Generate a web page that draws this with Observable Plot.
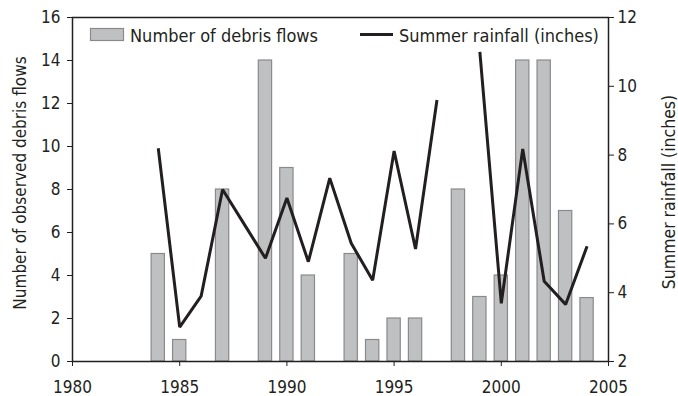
<!DOCTYPE html>
<html>
<head>
<meta charset="utf-8">
<script src="https://cdn.jsdelivr.net/npm/d3@7"></script>
<script src="https://cdn.jsdelivr.net/npm/@observablehq/plot@0.6"></script>
<style>
  html, body { margin: 0; padding: 0; background: #fff; }
  #chart { width: 678px; height: 396px; }
</style>
</head>
<body>
<div id="chart"></div>
<script>
// Debris flows per year
const flowYears  = [1984, 1985, 1987, 1989, 1990, 1991, 1993, 1994, 1995, 1996, 1998, 1999, 2000, 2001, 2002, 2003, 2004];
const flowCounts = [5, 1, 8, 14, 9, 4, 5, 1, 2, 2, 8, 3, 4, 14, 14, 7, 2.95];

// Summer rainfall (inches); 1998 missing
const rainYears  = [1984, 1985, 1986, 1987, 1988, 1989, 1990, 1991, 1992, 1993, 1994, 1995, 1996, 1997, 1998, 1999, 2000, 2001, 2002, 2003, 2004];
const rainValues = [8.2, 3.0, 3.9, 7.0, 6.0, 5.0, 6.75, 4.9, 7.33, 5.44, 4.36, 8.12, 5.27, 9.6, null, 11.0, 3.69, 8.18, 4.33, 3.66, 5.35];

const xTicks = [1980, 1985, 1990, 1995, 2000, 2005];
const leftTicks = [0, 2, 4, 6, 8, 10, 12, 14, 16];
const rightTicks = [2, 4, 6, 8, 10, 12];

const leftLabel = "Number of observed debris flows";
const rightLabel = "Summer rainfall (inches)";
const legendBars = "Number of debris flows";
const legendLine = "Summer rainfall (inches)";

const FONT = "'Liberation Sans Narrow', 'DejaVu Sans Condensed', 'Roboto', sans-serif";
const INK = "#231f20";
const BAR_FILL = "#bfc0c2";
const BAR_STROKE = "#8a8a8a";

// rainfall axis 2..12 mapped onto counts axis 0..16
const rMin = 2, rMax = 12, cMax = 16;
const toCount = r => (r - rMin) * cMax / (rMax - rMin);

const flows = flowYears.map((y, i) => ({year: y, count: flowCounts[i]}));
const rain = rainYears.map((y, i) => ({year: y, rain: rainValues[i]}));

const W = 678, H = 396;
const mL = 72, mR = 70, mT = 17, mB = 35;

const plot = Plot.plot({
  width: W,
  height: H,
  marginLeft: mL,
  marginRight: mR,
  marginTop: mT,
  marginBottom: mB,
  style: {fontFamily: FONT, fontSize: "17px", color: INK, background: "#fff"},
  x: {domain: [1980, 2005]},
  y: {domain: [0, cMax]},
  marks: [
    Plot.rectY(flows, {
      x1: d => d.year - 0.31,
      x2: d => d.year + 0.31,
      y: "count",
      fill: BAR_FILL,
      stroke: BAR_STROKE,
      strokeWidth: 1.2
    }),
    Plot.line(rain, {
      x: "year",
      y: d => d.rain == null ? NaN : toCount(d.rain),
      stroke: INK,
      strokeWidth: 3,
      strokeLinejoin: "miter",
      strokeLinecap: "butt"
    }),
    Plot.axisX({ticks: xTicks, tickFormat: d => String(d), tickSize: 5, tickPadding: 14, label: null, stroke: INK}),
    Plot.axisY({ticks: leftTicks, tickSize: 5, tickPadding: 7, label: null, anchor: "left", stroke: INK}),
    Plot.axisY({ticks: rightTicks.map(toCount), tickFormat: (d, i) => String(rightTicks[i]), tickSize: 5, tickPadding: 4, label: null, anchor: "right", stroke: INK}),
    Plot.frame({stroke: INK, strokeWidth: 1.5})
  ]
});

document.getElementById("chart").appendChild(plot);

const svg = d3.select(plot);
const g = svg.append("g").attr("font-family", FONT).attr("fill", INK).attr("text-anchor", "start");

// Axis titles
g.append("text")
  .attr("transform", `translate(26,${(mT + H - mB) / 2 - 6}) rotate(-90)`)
  .attr("text-anchor", "middle")
  .attr("font-size", 17)
  .text(leftLabel);
g.append("text")
  .attr("transform", `translate(675,${(mT + H - mB) / 2 + 3}) rotate(-90)`)
  .attr("text-anchor", "middle")
  .attr("font-size", 17.5)
  .text(rightLabel);

// Legend inside the plot
g.append("rect")
  .attr("x", 90.5).attr("y", 28.5).attr("width", 33).attr("height", 12)
  .attr("fill", BAR_FILL).attr("stroke", BAR_STROKE).attr("stroke-width", 1.2);
g.append("text").attr("x", 130).attr("y", 42).attr("font-size", 18).attr("text-anchor", "start").text(legendBars);
g.append("line")
  .attr("x1", 360).attr("x2", 393).attr("y1", 34.5).attr("y2", 34.5)
  .attr("stroke", INK).attr("stroke-width", 3);
g.append("text").attr("x", 399).attr("y", 42).attr("font-size", 18).attr("text-anchor", "start").text(legendLine);
</script>
</body>
</html>
